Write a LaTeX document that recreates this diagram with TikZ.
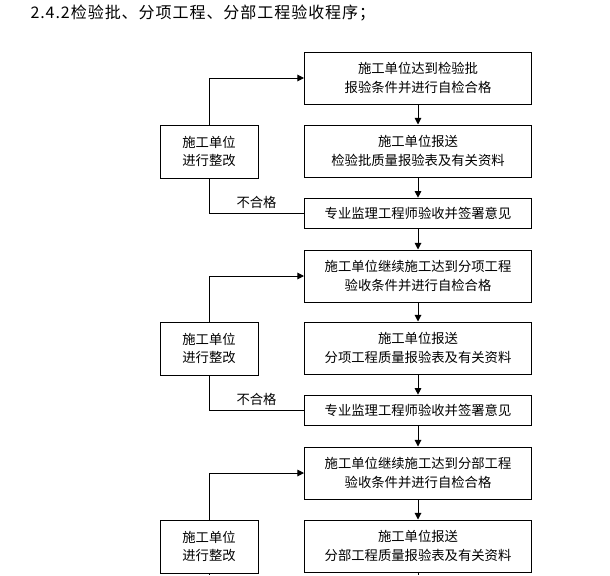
\documentclass[tikz,border=0pt]{standalone}
\usepackage{fontspec}
\setmainfont{Liberation Serif}
\newfontfamily\cjk{Noto Sans CJK SC}
\newfontfamily\cjkwide[LetterSpace=6]{Noto Sans CJK SC}
\usepackage{tikz}
\usetikzlibrary{arrows.meta,positioning}
\tikzset{box/.style={rectangle,draw,line width=0.75pt,minimum width=170.25pt,minimum height=39pt,inner sep=0pt,align=center,font=\cjk\fontsize{10pt}{14pt}\selectfont},
 lowbox/.style={box,minimum height=23pt},
 fix/.style={box,minimum width=73.5pt,minimum height=39.75pt},
 tip/.style={-{Triangle[width=5pt,length=5pt]}}}

\begin{document}
\begin{tikzpicture}[x=0.75pt,y=-0.75pt,line width=0.75pt]
    \useasboundingbox (0,0) rectangle (610,575);
    \node[anchor=west,inner sep=0pt,font=\cjkwide\fontsize{12pt}{13pt}\selectfont] (title) at (30,13) {2.4.2检验批、分项工程、分部工程验收程序；};

    \node[box] (a) at (418,78) {施工单位达到检验批\\报验条件并进行自检合格};
    \node[box] (b) at (418,151) {施工单位报送\\检验批质量报验表及有关资料};
    \node[lowbox] (c) at (418,213.5) {专业监理工程师验收并签署意见};
    \node[fix] (r1) at (209,151.5) {施工单位\\进行整改};

    \node[box] (d) at (418,276) {施工单位继续施工达到分项工程\\验收条件并进行自检合格};
    \node[box] (e) at (418,348) {施工单位报送\\分项工程质量报验表及有关资料};
    \node[lowbox] (f) at (418,410.5) {专业监理工程师验收并签署意见};
    \node[fix] (r2) at (209,348.5) {施工单位\\进行整改};

    \node[box] (g) at (418,473) {施工单位继续施工达到分部工程\\验收条件并进行自检合格};
    \node[box] (h) at (418,546) {施工单位报送\\分部工程质量报验表及有关资料};
    \node[fix] (r3) at (209,546.5) {施工单位\\进行整改};

    \coordinate (end) at (209,575);
    \coordinate (endb) at (418,575);

    \draw [tip] (a) to (b);
    \draw [tip] (b) to (c);
    \draw [tip] (c) to (d);
    \draw [tip] (d) to (e);
    \draw [tip] (e) to (f);
    \draw [tip] (f) to (g);
    \draw [tip] (g) to (h);
    \draw [tip] (r1.north) |- (a.west);
    \draw [tip] (r2.north) |- (d.west);
    \draw [tip] (r3.north) |- (g.west);
    \draw (c.west) -| node[pos=0.25,above,font=\cjk\fontsize{10pt}{12pt}\selectfont]{不合格} (r1.south);
    \draw (f.west) -| node[pos=0.25,above,font=\cjk\fontsize{10pt}{12pt}\selectfont]{不合格} (r2.south);
    \draw (r3.south) -- (end);
    \draw (h.south) -- (endb);
\end{tikzpicture}
\end{document}
